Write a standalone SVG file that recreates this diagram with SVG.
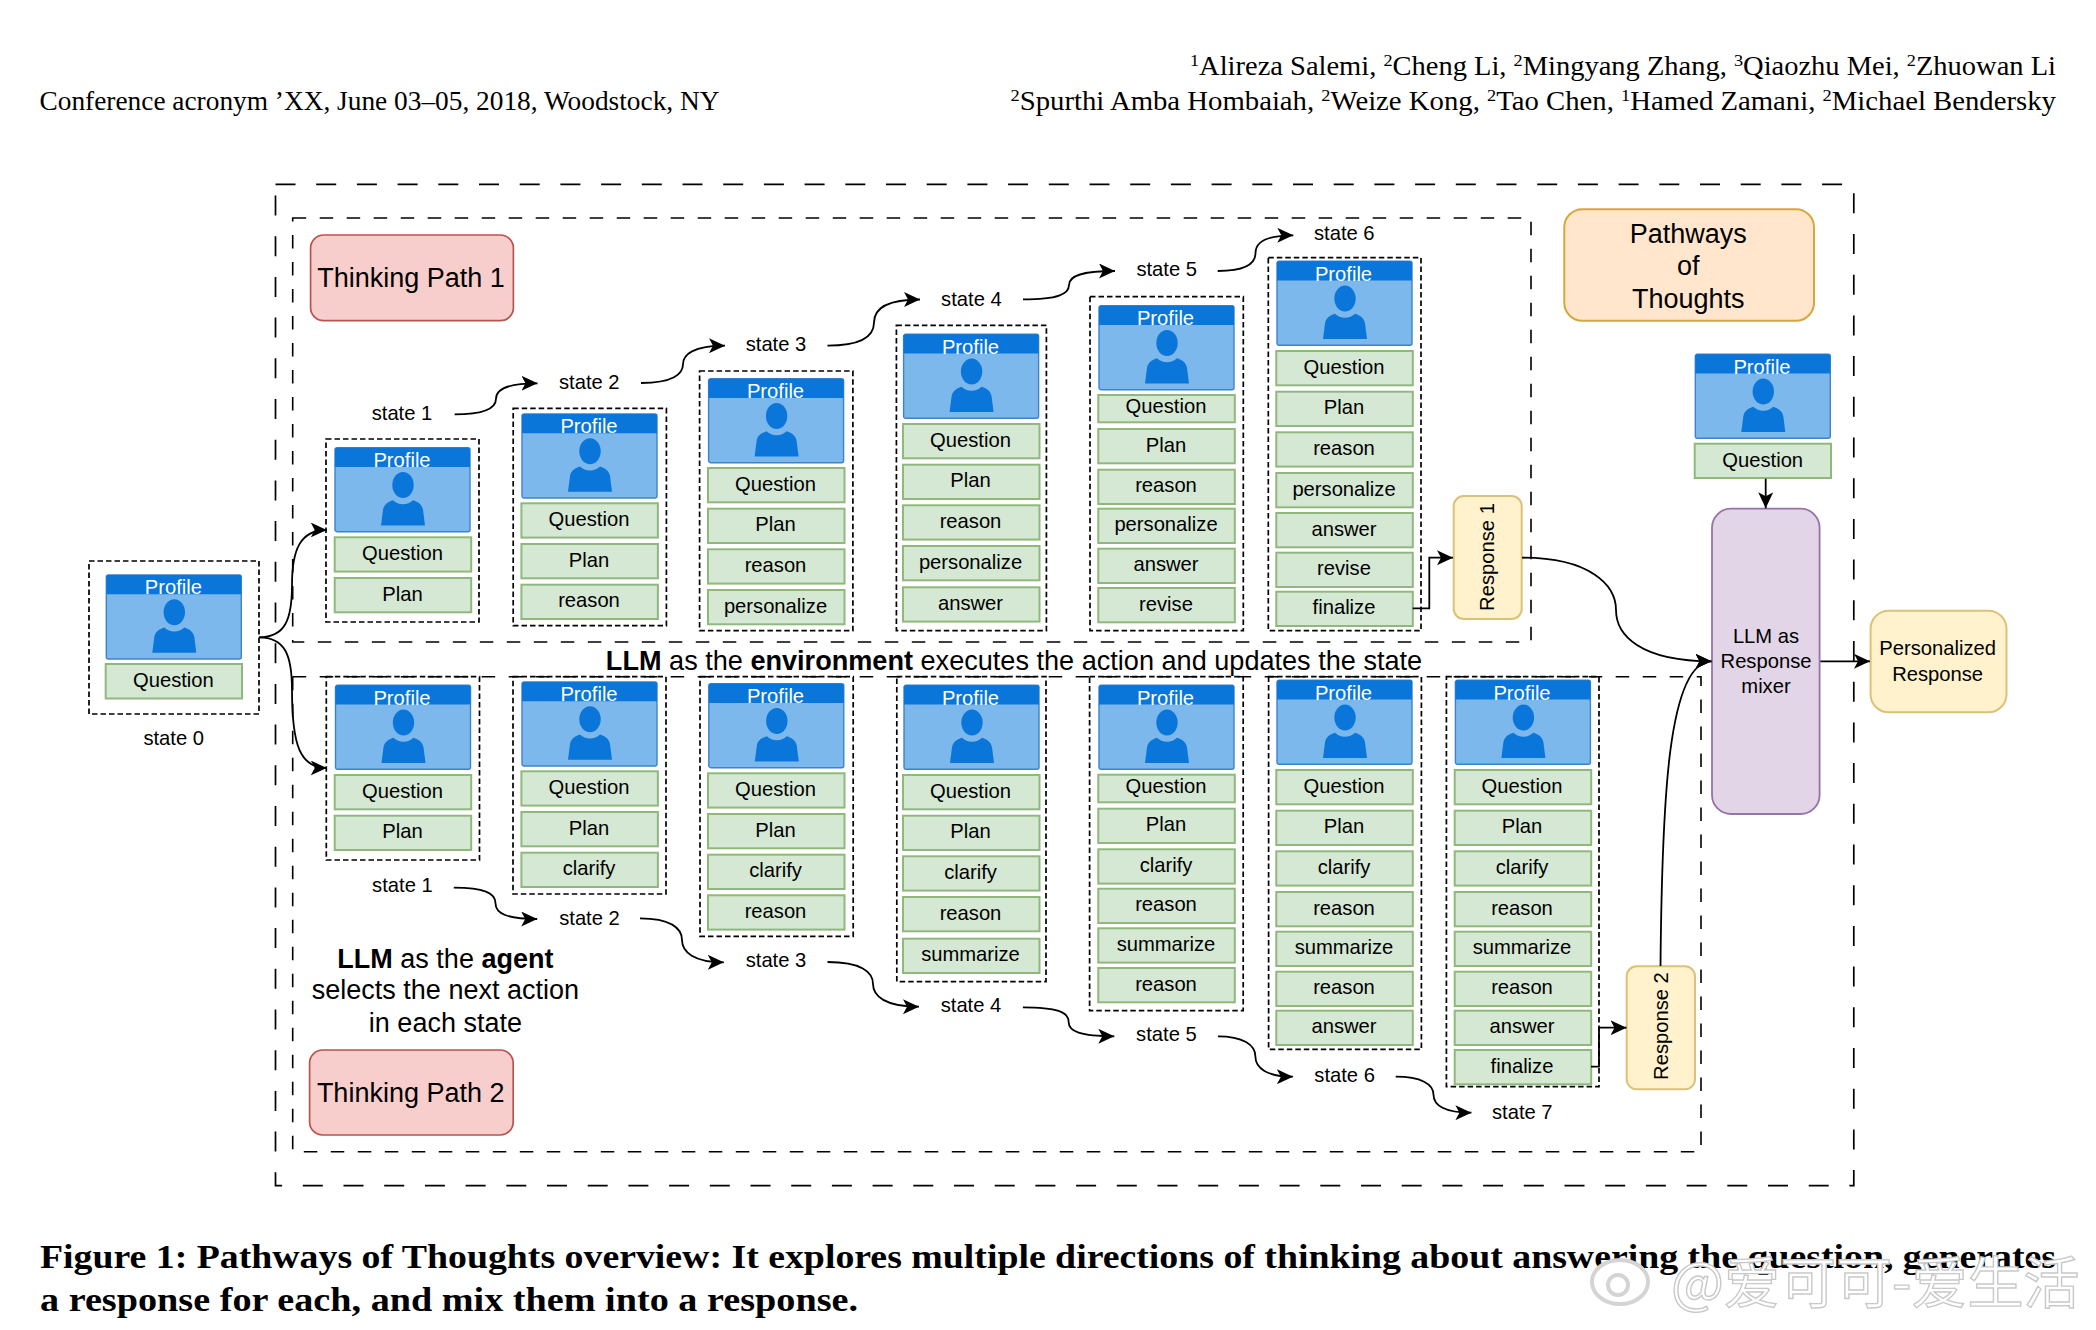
<svg xmlns="http://www.w3.org/2000/svg" width="2096" height="1330" viewBox="0 0 2096 1330">
<style>
text{font-family:"Liberation Sans",Arial,sans-serif;fill:#000}
.l{font-size:20.2px;text-anchor:middle;transform:translateY(-0.7px)}
.rl{font-size:20.2px;text-anchor:middle}
.big{font-size:27px;text-anchor:middle}
.p{font-size:20.2px;text-anchor:middle;fill:#fff;transform:translateY(1.2px)}
.b{fill:#d5e8d4;stroke:#90b87c;stroke-width:2}
.ds{fill:none;stroke:#000;stroke-width:1.7;stroke-dasharray:5.5 3}
.d1{fill:none;stroke:#000;stroke-width:1.7;stroke-dasharray:20 20.7}
.d2{fill:none;stroke:#000;stroke-width:1.6;stroke-dasharray:13.5 13.5}
.c{fill:none;stroke:#000;stroke-width:1.8;marker-end:url(#ah)}
.s{font-family:"Liberation Serif","Times New Roman",serif;font-size:26.6px}
.cap{font-family:"Liberation Serif","Times New Roman",serif;font-size:33px;font-weight:700}
.y{fill:#fff2cc;stroke:#dcc278;stroke-width:2}
.r{fill:#f8cecc;stroke:#b85450;stroke-width:1.7}
</style>
<defs>
<marker id="ah" markerUnits="userSpaceOnUse" markerWidth="17" markerHeight="15" refX="16" refY="7.5" orient="auto"><path d="M16,7.5 L0,0 L4,7.5 L0,15 Z" fill="#000"/></marker>
<g id="card">
<rect width="135" height="84" rx="2" fill="#7db8ec" stroke="#3f83c6" stroke-width="1.4"/>
<path d="M0,19.3 V2 Q0,0 2,0 H133 Q135,0 135,2 V19.3 Z" fill="#0b76d9"/>
<ellipse cx="68" cy="37.3" rx="10.7" ry="13" fill="#0b76d9"/>
<path d="M46,77.7 L48,62 C49,56 54,54 58,52.5 C61,55 64,56.5 68,56.5 C72,56.5 75,55 78,52.5 C82,54 87,56 88,62 L90,77.7 Z" fill="#0b76d9"/>
</g>
</defs>
<g id="page-header">
<text class="s" x="39.5" y="110" textLength="680" lengthAdjust="spacingAndGlyphs">Conference acronym ’XX, June 03–05, 2018, Woodstock, NY</text>
<text class="s" x="1190" y="75" textLength="866" lengthAdjust="spacingAndGlyphs"><tspan font-size="17" dy="-9">1</tspan><tspan dy="9">Alireza Salemi, </tspan><tspan font-size="17" dy="-9">2</tspan><tspan dy="9">Cheng Li, </tspan><tspan font-size="17" dy="-9">2</tspan><tspan dy="9">Mingyang Zhang, </tspan><tspan font-size="17" dy="-9">3</tspan><tspan dy="9">Qiaozhu Mei, </tspan><tspan font-size="17" dy="-9">2</tspan><tspan dy="9">Zhuowan Li</tspan></text>
<text class="s" x="1010.5" y="110" textLength="1045.5" lengthAdjust="spacingAndGlyphs"><tspan font-size="17" dy="-9">2</tspan><tspan dy="9">Spurthi Amba Hombaiah, </tspan><tspan font-size="17" dy="-9">2</tspan><tspan dy="9">Weize Kong, </tspan><tspan font-size="17" dy="-9">2</tspan><tspan dy="9">Tao Chen, </tspan><tspan font-size="17" dy="-9">1</tspan><tspan dy="9">Hamed Zamani, </tspan><tspan font-size="17" dy="-9">2</tspan><tspan dy="9">Michael Bendersky</tspan></text>
</g>
<g id="frames">
<rect id="pathways-frame" class="d1" x="275.5" y="184.3" width="1578.3" height="1001.4"/>
<rect id="path1-frame" class="d2" x="292.7" y="218" width="1238.3" height="424"/>
<rect id="path2-frame" class="d2" x="292.7" y="676.7" width="1408.3" height="475"/>
</g>
<g id="titles">
<g id="thinking-path-1"><rect class="r" x="310.6" y="235" width="202.8" height="85.7" rx="13"/><text class="big" x="411" y="287">Thinking Path 1</text></g>
<g id="thinking-path-2"><rect class="r" x="309.6" y="1050" width="203.6" height="85" rx="13"/><text class="big" x="410.7" y="1101.7">Thinking Path 2</text></g>
<g id="pathways-of-thoughts"><rect x="1564.3" y="209.3" width="249.7" height="111.4" rx="18" fill="#ffe6cc" stroke="#d6a73c" stroke-width="2"/><text class="big" x="1688.3" y="243">Pathways</text><text class="big" x="1688.3" y="275.3">of</text><text class="big" x="1688.3" y="307.7">Thoughts</text></g>
<text class="big" x="445.4" y="967.7"><tspan font-weight="700">LLM</tspan> as the <tspan font-weight="700">agent</tspan></text>
<text class="big" x="445.4" y="999.3">selects the next action</text>
<text class="big" x="445.4" y="1031.7">in each state</text>
<text class="big" style="font-size:27.1px" x="1014" y="670"><tspan font-weight="700">LLM</tspan> as the <tspan font-weight="700">environment</tspan> executes the action and updates the state</text>
</g>
<g id="s0">
<rect class="ds" x="89" y="561" width="170" height="153"/><use href="#card" x="106.3" y="575"/><text class="p" x="173.4" y="593.3">Profile</text>
<rect class="b" x="105.7" y="664" width="136.3" height="34.5"/><text class="l" x="173.4" y="688">Question</text>
<text class="l" x="173.7" y="745.5">state 0</text>
</g>
<g id="t1">
<rect class="ds" x="326" y="439" width="153" height="183"/><use href="#card" x="335" y="447.7"/><text class="p" x="402" y="466">Profile</text>
<rect class="b" x="334.7" y="537.3" width="136.5" height="34.3"/><text class="l" x="402.5" y="560.8">Question</text>
<rect class="b" x="334.7" y="578" width="136.5" height="34.3"/><text class="l" x="402.5" y="601.5">Plan</text>
<text class="l" x="402" y="420.5">state 1</text>
</g>
<g id="t2">
<rect class="ds" x="513.2" y="408.3" width="153.2" height="217.4"/><use href="#card" x="522" y="414"/><text class="p" x="589" y="432.3">Profile</text>
<rect class="b" x="521.4" y="503.3" width="136.5" height="34.3"/><text class="l" x="589" y="526.8">Question</text>
<rect class="b" x="521.4" y="544" width="136.5" height="34.3"/><text class="l" x="589" y="567.5">Plan</text>
<rect class="b" x="521.4" y="584.7" width="136.5" height="34.3"/><text class="l" x="589" y="608.2">reason</text>
<text class="l" x="589.3" y="389.5">state 2</text>
</g>
<g id="t3">
<rect class="ds" x="699.6" y="371" width="153.3" height="259.7"/><use href="#card" x="708.6" y="378.7"/><text class="p" x="775.5" y="397">Profile</text>
<rect class="b" x="708" y="468" width="136.5" height="34.3"/><text class="l" x="775.5" y="491.5">Question</text>
<rect class="b" x="708" y="508.7" width="136.5" height="34.3"/><text class="l" x="775.5" y="532.2">Plan</text>
<rect class="b" x="708" y="549.3" width="136.5" height="34.3"/><text class="l" x="775.5" y="572.8">reason</text>
<rect class="b" x="708" y="590" width="136.5" height="34.3"/><text class="l" x="775.5" y="613.5">personalize</text>
<text class="l" x="776" y="352.2">state 3</text>
</g>
<g id="t4">
<rect class="ds" x="896.4" y="325.3" width="150" height="305.4"/><use href="#card" x="903.6" y="334.3"/><text class="p" x="970.5" y="352.6">Profile</text>
<rect class="b" x="903" y="424" width="136.5" height="34.3"/><text class="l" x="970.5" y="447.5">Question</text>
<rect class="b" x="903" y="464.7" width="136.5" height="34.3"/><text class="l" x="970.5" y="488.2">Plan</text>
<rect class="b" x="903" y="505.3" width="136.5" height="34.3"/><text class="l" x="970.5" y="528.8">reason</text>
<rect class="b" x="903" y="546" width="136.5" height="34.3"/><text class="l" x="970.5" y="569.5">personalize</text>
<rect class="b" x="903" y="587.3" width="136.5" height="34.3"/><text class="l" x="970.5" y="610.8">answer</text>
<text class="l" x="971.4" y="306.5">state 4</text>
</g>
<g id="t5">
<rect class="ds" x="1090" y="296.7" width="153.3" height="334"/><use href="#card" x="1099" y="305.7"/><text class="p" x="1165.5" y="324">Profile</text>
<rect class="b" x="1098.3" y="395" width="136.5" height="27.3"/><text class="l" x="1166" y="413.5">Question</text>
<rect class="b" x="1098.3" y="429" width="136.5" height="34.3"/><text class="l" x="1166" y="452.5">Plan</text>
<rect class="b" x="1098.3" y="469.7" width="136.5" height="34.3"/><text class="l" x="1166" y="493.2">reason</text>
<rect class="b" x="1098.3" y="508.7" width="136.5" height="34.3"/><text class="l" x="1166" y="532.2">personalize</text>
<rect class="b" x="1098.3" y="548.7" width="136.5" height="34.3"/><text class="l" x="1166" y="572.2">answer</text>
<rect class="b" x="1098.3" y="588" width="136.5" height="34.3"/><text class="l" x="1166" y="611.5">revise</text>
<text class="l" x="1166.7" y="277.2">state 5</text>
</g>
<g id="t6">
<rect class="ds" x="1268.3" y="257.7" width="152.7" height="373"/><use href="#card" x="1277" y="261.3"/><text class="p" x="1343.5" y="279.6">Profile</text>
<rect class="b" x="1276.3" y="351" width="136.5" height="34.3"/><text class="l" x="1344" y="374.5">Question</text>
<rect class="b" x="1276.3" y="391.7" width="136.5" height="34.3"/><text class="l" x="1344" y="415.2">Plan</text>
<rect class="b" x="1276.3" y="432.3" width="136.5" height="34.3"/><text class="l" x="1344" y="455.8">reason</text>
<rect class="b" x="1276.3" y="473" width="136.5" height="34.3"/><text class="l" x="1344" y="496.5">personalize</text>
<rect class="b" x="1276.3" y="513" width="136.5" height="34.3"/><text class="l" x="1344" y="536.5">answer</text>
<rect class="b" x="1276.3" y="552.7" width="136.5" height="34.3"/><text class="l" x="1344" y="576.2">revise</text>
<rect class="b" x="1276.3" y="591.7" width="136.5" height="34.3"/><text class="l" x="1344" y="615.2">finalize</text>
<text class="l" x="1344.3" y="241.2">state 6</text>
</g>
<g id="response-1"><rect class="y" x="1453.7" y="496" width="68" height="123" rx="10"/><text class="rl" x="1494" y="557" transform="rotate(-90 1494 557)">Response 1</text></g>
<g id="b1">
<rect class="ds" x="326.3" y="676.7" width="153.2" height="183.3"/><use href="#card" x="335.5" y="685.3"/><text class="p" x="402" y="703.6">Profile</text>
<rect class="b" x="334.7" y="775" width="136.5" height="34.3"/><text class="l" x="402.5" y="798.5">Question</text>
<rect class="b" x="334.7" y="815.7" width="136.5" height="34.3"/><text class="l" x="402.5" y="839.2">Plan</text>
<text class="l" x="402.4" y="893.2">state 1</text>
</g>
<g id="b2">
<rect class="ds" x="513" y="676.7" width="153" height="217.3"/><use href="#card" x="522" y="682"/><text class="p" x="589" y="700.3">Profile</text>
<rect class="b" x="521.4" y="771.3" width="136.5" height="34.3"/><text class="l" x="589" y="794.8">Question</text>
<rect class="b" x="521.4" y="812" width="136.5" height="34.3"/><text class="l" x="589" y="835.5">Plan</text>
<rect class="b" x="521.4" y="852.7" width="136.5" height="34.3"/><text class="l" x="589" y="876.2">clarify</text>
<text class="l" x="589.5" y="925.5">state 2</text>
</g>
<g id="b3">
<rect class="ds" x="700" y="676.7" width="153.2" height="259.6"/><use href="#card" x="708.8" y="683.7"/><text class="p" x="775.5" y="702">Profile</text>
<rect class="b" x="708" y="773.3" width="136.5" height="34.3"/><text class="l" x="775.5" y="796.8">Question</text>
<rect class="b" x="708" y="814" width="136.5" height="34.3"/><text class="l" x="775.5" y="837.5">Plan</text>
<rect class="b" x="708" y="854.7" width="136.5" height="34.3"/><text class="l" x="775.5" y="878.2">clarify</text>
<rect class="b" x="708" y="895.3" width="136.5" height="34.3"/><text class="l" x="775.5" y="918.8">reason</text>
<text class="l" x="776" y="968.2">state 3</text>
</g>
<g id="b4">
<rect class="ds" x="896.8" y="676.7" width="149.2" height="305"/><use href="#card" x="904" y="685.3"/><text class="p" x="970.5" y="703.6">Profile</text>
<rect class="b" x="903" y="775" width="136.5" height="34.3"/><text class="l" x="970.5" y="798.5">Question</text>
<rect class="b" x="903" y="815.7" width="136.5" height="34.3"/><text class="l" x="970.5" y="839.2">Plan</text>
<rect class="b" x="903" y="856.3" width="136.5" height="34.3"/><text class="l" x="970.5" y="879.8">clarify</text>
<rect class="b" x="903" y="897" width="136.5" height="34.3"/><text class="l" x="970.5" y="920.5">reason</text>
<rect class="b" x="903" y="938.7" width="136.5" height="34.3"/><text class="l" x="970.5" y="962.2">summarize</text>
<text class="l" x="971" y="1013.2">state 4</text>
</g>
<g id="b5">
<rect class="ds" x="1089.6" y="676.7" width="153.6" height="334"/><use href="#card" x="1099" y="685.3"/><text class="p" x="1165.5" y="703.6">Profile</text>
<rect class="b" x="1098.3" y="774.7" width="136.5" height="27.6"/><text class="l" x="1166" y="793.8">Question</text>
<rect class="b" x="1098.3" y="808.7" width="136.5" height="34.3"/><text class="l" x="1166" y="832.2">Plan</text>
<rect class="b" x="1098.3" y="849.3" width="136.5" height="34.3"/><text class="l" x="1166" y="872.8">clarify</text>
<rect class="b" x="1098.3" y="888.7" width="136.5" height="34.3"/><text class="l" x="1166" y="912.2">reason</text>
<rect class="b" x="1098.3" y="928.3" width="136.5" height="34.3"/><text class="l" x="1166" y="951.8">summarize</text>
<rect class="b" x="1098.3" y="968" width="136.5" height="34.3"/><text class="l" x="1166" y="991.5">reason</text>
<text class="l" x="1166.4" y="1042.2">state 5</text>
</g>
<g id="b6">
<rect class="ds" x="1268.6" y="676.7" width="152.8" height="372.6"/><use href="#card" x="1277" y="680.3"/><text class="p" x="1343.5" y="698.6">Profile</text>
<rect class="b" x="1276.3" y="770" width="136.5" height="34.3"/><text class="l" x="1344" y="793.5">Question</text>
<rect class="b" x="1276.3" y="810.7" width="136.5" height="34.3"/><text class="l" x="1344" y="834.2">Plan</text>
<rect class="b" x="1276.3" y="851.3" width="136.5" height="34.3"/><text class="l" x="1344" y="874.8">clarify</text>
<rect class="b" x="1276.3" y="892" width="136.5" height="34.3"/><text class="l" x="1344" y="915.5">reason</text>
<rect class="b" x="1276.3" y="931.7" width="136.5" height="34.3"/><text class="l" x="1344" y="955.2">summarize</text>
<rect class="b" x="1276.3" y="971.7" width="136.5" height="34.3"/><text class="l" x="1344" y="995.2">reason</text>
<rect class="b" x="1276.3" y="1010.7" width="136.5" height="34.3"/><text class="l" x="1344" y="1034.2">answer</text>
<text class="l" x="1344.6" y="1083.2">state 6</text>
</g>
<g id="b7">
<rect class="ds" x="1446.4" y="676.7" width="152.6" height="410"/><use href="#card" x="1455.4" y="680.3"/><text class="p" x="1522" y="698.6">Profile</text>
<rect class="b" x="1454.7" y="770" width="136.5" height="34.3"/><text class="l" x="1522" y="793.5">Question</text>
<rect class="b" x="1454.7" y="810.7" width="136.5" height="34.3"/><text class="l" x="1522" y="834.2">Plan</text>
<rect class="b" x="1454.7" y="851.3" width="136.5" height="34.3"/><text class="l" x="1522" y="874.8">clarify</text>
<rect class="b" x="1454.7" y="892" width="136.5" height="34.3"/><text class="l" x="1522" y="915.5">reason</text>
<rect class="b" x="1454.7" y="931.7" width="136.5" height="34.3"/><text class="l" x="1522" y="955.2">summarize</text>
<rect class="b" x="1454.7" y="971.7" width="136.5" height="34.3"/><text class="l" x="1522" y="995.2">reason</text>
<rect class="b" x="1454.7" y="1010.7" width="136.5" height="34.3"/><text class="l" x="1522" y="1034.2">answer</text>
<rect class="b" x="1454.7" y="1050" width="136.5" height="34.3"/><text class="l" x="1522" y="1073.5">finalize</text>
<text class="l" x="1522.3" y="1119.5">state 7</text>
</g>
<g id="response-2"><rect class="y" x="1626.7" y="966.3" width="68.3" height="123" rx="10"/><text class="rl" x="1667.7" y="1026" transform="rotate(-90 1667.7 1026)">Response 2</text></g>
<g id="user-input">
<use href="#card" x="1695.3" y="354.3"/><text class="p" x="1762" y="372.6">Profile</text>
<rect class="b" x="1694.7" y="443.7" width="136.3" height="34.3"/><text class="l" x="1762.7" y="467.5">Question</text>
</g>
<g id="mixer"><rect x="1712" y="508.7" width="107.6" height="305.3" rx="19" fill="#e1d5e7" stroke="#9673a6" stroke-width="1.8"/><text class="l" x="1766" y="643.8">LLM as</text><text class="l" x="1766" y="668.5">Response</text><text class="l" x="1766" y="693.5">mixer</text></g>
<g id="personalized-response"><rect class="y" x="1870.6" y="610.7" width="135.9" height="101.6" rx="18"/><text class="l" x="1937.6" y="655.5">Personalized</text><text class="l" x="1937.6" y="681.5">Response</text></g>
<g id="connectors">
<path class="c" d="M259,637.3 C285,637.3 292,620 292,585 C292,550 300,530 326.7,530"/>
<path class="c" d="M259,637.3 C285,637.3 292,655 292,690 C292,745 300,768 326.7,768"/>
<path class="c" d="M454.6,414.4 C486,414.4 496,408 496,398.8 S506,383.3 537.5,383.3"/>
<path class="c" d="M641,383 C673,383 683,374 683,364.3 S693,345.7 725,345.7"/>
<path class="c" d="M827.5,345.7 C862,345.7 874,336 874,322.6 S886,299.5 920,299.5"/>
<path class="c" d="M1023,299.3 C1058,299.3 1069,294 1069,285 S1081,271 1115,271"/>
<path class="c" d="M1217.7,271 C1244,271 1255.5,264 1255.5,253 S1267,235.3 1293.3,235.3"/>
<path class="c" d="M453.8,887.7 C484,887.7 495.5,893 495.5,903.3 S507,919 537.2,919"/>
<path class="c" d="M640,918.3 C670,918.3 682,928 682,940 S694,962.3 723.8,962.3"/>
<path class="c" d="M827.5,962 C861,962 873,972 873,984 S885,1006.7 919,1006.7"/>
<path class="c" d="M1022.9,1007.3 C1057,1007.3 1068.6,1012 1068.6,1021.8 S1080,1036.3 1114.3,1036.3"/>
<path class="c" d="M1217.9,1036.3 C1243,1036.3 1255.4,1045 1255.4,1056.5 S1267,1076.7 1292.9,1076.7"/>
<path class="c" d="M1395.7,1076.7 C1421,1076.7 1433.5,1084 1433.5,1094.7 S1445,1112.7 1471.4,1112.7"/>
<path class="c" d="M1412.7,608.3 H1429.3 V557.7 H1453"/>
<path class="c" d="M1591,1066.7 H1599 V1027.7 H1626.5"/>
<path class="c" d="M1522,557.7 C1590,557.7 1616,585 1616,610 S1640,661.3 1711.5,661.3"/>
<path class="c" d="M1660.5,966 C1662,800 1668,661.3 1711.5,661.3"/>
<path class="c" d="M1765.7,478.7 V508.3"/>
<path class="c" d="M1820.4,661.3 H1870"/>
</g>
<g id="caption">
<text class="cap" x="40" y="1268" textLength="2016" lengthAdjust="spacingAndGlyphs">Figure 1: Pathways of Thoughts overview: It explores multiple directions of thinking about answering the question, generates</text>
<text class="cap" x="40" y="1310.5" textLength="818" lengthAdjust="spacingAndGlyphs">a response for each, and mix them into a response.</text>
</g>
<g id="watermark">
<ellipse cx="1620" cy="1282" rx="28" ry="22" fill="#fff" stroke="#d4d4d4" stroke-width="4"/>
<circle cx="1618" cy="1285" r="10" fill="none" stroke="#d4d4d4" stroke-width="4"/>
<text x="1671" y="1303" style="font-family:'Noto Sans CJK SC',sans-serif;font-size:56px;fill:#fff;stroke:#c9c9c9;stroke-width:1.4">@爱可可-爱生活</text>
</g>
</svg>
